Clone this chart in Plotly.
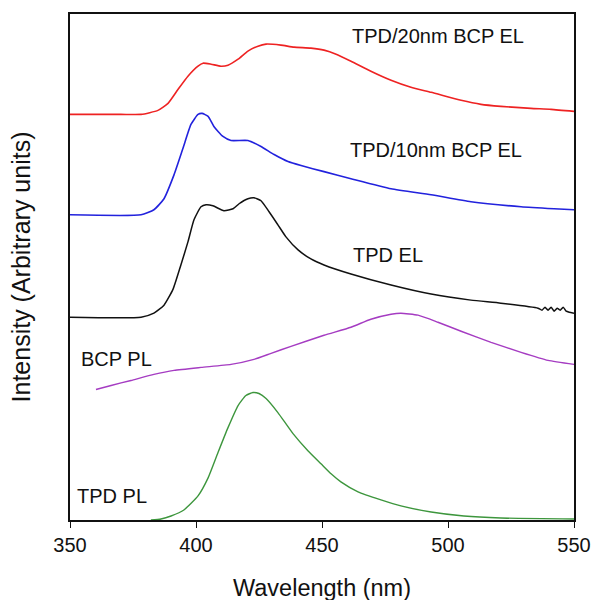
import plotly.graph_objects as go

# Wavelength (nm) / intensity (arbitrary units, offset stacked as in the figure)
red_x = [350.0, 370.2, 378.2, 384.9, 388.9, 392.9, 396.8, 400.8, 402.8, 406.0, 409.9, 412.7, 416.7,
         420.6, 424.6, 427.8, 433.7, 438.9, 445.6, 450.8, 455.6, 461.5, 469.4, 477.4, 485.3, 493.3,
         505.2, 513.1, 521.0, 532.9, 540.9, 550.0]
red_y = [404, 404, 404, 408, 415, 429, 442, 452, 455, 454, 452, 453, 459,
         467, 472, 474, 473, 471, 470, 468, 464, 457, 447, 438, 431, 426,
         418, 414, 412, 410, 409, 407]

blue_x = [350.0, 378.2, 383.3, 387.3, 391.3, 394.8, 398.0, 400.8, 402.4, 404.8, 407.1, 410.7, 413.9,
          420.6, 425.8, 431.0, 436.5, 441.7, 450.8, 461.5, 477.4, 493.3, 509.1, 529.0, 542.1, 550.0]
blue_y = [304, 304, 309, 320, 344, 370, 394, 404, 405, 402, 392, 382, 378,
          378, 372, 364, 357, 353, 347, 340, 330, 324, 317, 312, 310, 309]

black_x = [350.0, 378.2, 383.3, 387.3, 390.9, 394.0, 396.8, 399.2, 402.0, 404.0, 406.7, 411.1, 414.7,
           417.1, 420.6, 423.0, 425.8, 429.0, 432.5, 435.7, 440.5, 445.6, 450.8, 461.5, 477.4, 493.3,
           509.1, 521.0, 535.7, 537.3, 538.5, 539.7, 540.9, 542.1, 543.3, 544.5, 545.7, 546.9, 548.1,
           550.0]
black_y = [202, 202, 206, 214, 230, 254, 277, 299, 312, 314, 313, 308, 310,
           315, 320, 321, 318, 307, 294, 282, 269, 260, 254, 245, 234, 225,
           219, 216, 211, 209, 212, 209, 212, 208, 211, 209, 212, 208, 207,
           206]

purple_x = [360.3, 366.3, 374.2, 383.3, 391.3, 402.0, 413.9, 423.0, 429.8, 437.7, 450.8, 461.5, 469.4,
            477.4, 481.3, 488.1, 496.0, 505.2, 517.1, 529.0, 539.7, 550.0]
purple_y = [130, 134, 139, 145, 149, 152, 155, 160, 166, 173, 184, 192, 200,
            205, 206, 204, 197, 188, 177, 167, 159, 155]

green_x = [382.1, 386.1, 390.1, 395.2, 400.8, 404.8, 408.7, 412.7, 416.7, 419.8, 422.6, 425.0, 427.8,
           432.5, 438.5, 444.4, 449.6, 453.6, 457.5, 464.3, 473.4, 481.3, 493.3, 506.3, 521.0, 550.0]
green_y = [0, 1, 4, 10, 24, 42, 67, 92, 114, 124, 127, 126, 121,
           107, 86, 69, 56, 46, 38, 28, 20, 14, 8, 4, 2, 1]

labels = ["TPD/20nm BCP EL", "TPD/10nm BCP EL", "TPD EL", "BCP PL", "TPD PL"]
label_x = [496.0, 495.2, 476.2, 368.3, 366.7]
label_y = [482, 369, 264, 160, 24]

x_ticks = [350, 400, 450, 500, 550]

FONT = "Liberation Sans, Arial, sans-serif"

fig = go.Figure()
series = [
    (red_x, red_y, "#ee2222", 1.6),
    (blue_x, blue_y, "#2222dd", 1.6),
    (black_x, black_y, "#111111", 1.5),
    (purple_x, purple_y, "#a53cc2", 1.4),
    (green_x, green_y, "#3d963d", 1.4),
]
for xs, ys, c, w in series:
    fig.add_trace(go.Scatter(x=xs, y=ys, mode="lines", line=dict(color=c, width=w, shape="spline", smoothing=0.5),
                             showlegend=False, hoverinfo="skip"))

for t, lx, ly in zip(labels, label_x, label_y):
    fig.add_annotation(x=lx, y=ly, xref="x", yref="y", text=t, showarrow=False,
                       font=dict(family=FONT, size=20, color="#111111"))

fig.update_layout(
    width=603, height=612,
    margin=dict(l=70, r=19, t=13, b=92),
    plot_bgcolor="white", paper_bgcolor="white",
    font=dict(family=FONT, color="#111111"),
    xaxis=dict(range=[350, 550], tickvals=x_ticks, ticktext=[str(v) for v in x_ticks],
               ticks="outside", ticklen=6, tickwidth=1.3, tickcolor="#111111",
               showline=True, linecolor="#111111", linewidth=1.5, mirror=True,
               showgrid=False, zeroline=False,
               tickfont=dict(size=20, family=FONT),
               title=dict(text="Wavelength (nm)", font=dict(size=23.5, family=FONT), standoff=25)),
    yaxis=dict(range=[0, 504], showticklabels=False, ticks="",
               showline=True, linecolor="#111111", linewidth=1.5, mirror=True,
               showgrid=False, zeroline=False,
               title=dict(text="Intensity (Arbitrary units)", font=dict(size=25, family=FONT), standoff=31)),
)

fig.write_html(
    "out.html",
    config={"displayModeBar": False, "responsive": False},
    post_script=("document.body.style.margin='0px';"
                 "document.body.style.overflow='hidden';"
                 "document.documentElement.style.overflow='hidden';"),
)
